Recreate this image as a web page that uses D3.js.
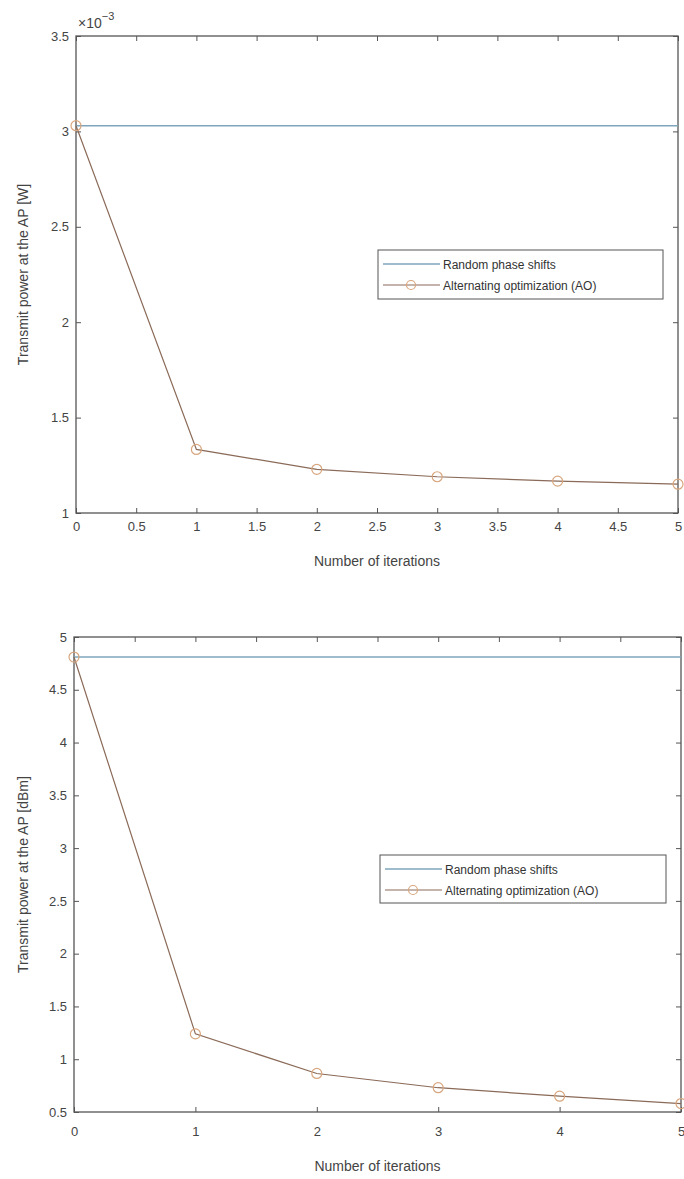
<!DOCTYPE html>
<html><head><meta charset="utf-8">
<script src="https://cdn.jsdelivr.net/npm/d3@7"></script>
<style>
body{margin:0;background:#fff;}
svg{display:block;font-family:"Liberation Sans",Arial,sans-serif;}
</style></head>
<body><svg id="c" width="684" height="1179"></svg>
<script>
// ---- data ----
const iterations = [0, 1, 2, 3, 4, 5];
const randomW = [3.03, 3.03, 3.03, 3.03, 3.03, 3.03];        // x10^-3 W
const aoW = [3.03, 1.333, 1.229, 1.19, 1.167, 1.151];        // x10^-3 W
const randomDbm = [4.81, 4.81, 4.81, 4.81, 4.81, 4.81];
const aoDbm = [4.81, 1.24, 0.865, 0.73, 0.65, 0.58];
const xTicksTop = [0, 0.5, 1, 1.5, 2, 2.5, 3, 3.5, 4, 4.5, 5];
const xTicksBottom = [0, 1, 2, 3, 4, 5];
const yTicksTop = [1, 1.5, 2, 2.5, 3, 3.5];
const yTicksBottom = [0.5, 1, 1.5, 2, 2.5, 3, 3.5, 4, 4.5, 5];
const legendLabels = ["Random phase shifts", "Alternating optimization (AO)"];

const svg = d3.select("#c");
const axisColor = "#555";
const textColor = "#444";
const blue = "#7fa6bd";
const aoLine = "#8a6a58";
const aoMarker = "#d8a67e";

function panel(cfg) {
  const g = svg.append("g");
  const x = d3.scaleLinear().domain([0, 5]).range([cfg.left, cfg.right]);
  const y = d3.scaleLinear().domain(cfg.yDomain).range([cfg.bottom, cfg.top]);

  const xa = g.append("g").attr("transform", `translate(0,${cfg.bottom})`)
    .call(d3.axisBottom(x).tickValues(cfg.xTicks).tickSizeInner(-5).tickSizeOuter(0).tickPadding(cfg.xPad)
      .tickFormat(d3.format("~g")));
  const xt = g.append("g").attr("transform", `translate(0,${cfg.top})`)
    .call(d3.axisTop(x).tickValues(cfg.xTicksMirror).tickSizeInner(-5).tickSizeOuter(0).tickFormat(""));
  const ya = g.append("g").attr("transform", `translate(${cfg.left},0)`)
    .call(d3.axisLeft(y).tickValues(cfg.yTicks).tickSizeInner(-5).tickSizeOuter(0).tickPadding(7)
      .tickFormat(d3.format("~g")));
  const yr = g.append("g").attr("transform", `translate(${cfg.right},0)`)
    .call(d3.axisRight(y).tickValues(cfg.yTicks).tickSizeInner(-5).tickSizeOuter(0).tickFormat(""));
  [xa, xt, ya, yr].forEach(a => {
    a.select(".domain").remove();
    a.selectAll(".tick line").attr("stroke", axisColor).attr("stroke-width", 1);
    a.selectAll(".tick text").attr("fill", textColor).style("font-size", "13px");
  });
  g.append("rect").attr("x", cfg.left).attr("y", cfg.top)
    .attr("width", cfg.right - cfg.left).attr("height", cfg.bottom - cfg.top)
    .attr("fill", "none").attr("stroke", axisColor).attr("stroke-width", 1.3);

  const line = d3.line().x((d, i) => x(iterations[i])).y(d => y(d));
  g.append("path").datum(cfg.random).attr("d", line).attr("fill", "none")
    .attr("stroke", blue).attr("stroke-width", 1.5);
  g.append("path").datum(cfg.ao).attr("d", line).attr("fill", "none")
    .attr("stroke", aoLine).attr("stroke-width", 1.2);
  g.selectAll("circle.m").data(cfg.ao).join("circle").attr("class", "m")
    .attr("cx", (d, i) => x(iterations[i])).attr("cy", d => y(d)).attr("r", 5)
    .attr("fill", "none").attr("stroke", aoMarker).attr("stroke-width", 1.2);

  g.append("text").attr("x", (cfg.left + cfg.right) / 2).attr("y", cfg.xlabelY)
    .attr("text-anchor", "middle").attr("fill", textColor).style("font-size", "14px")
    .text("Number of iterations");
  g.append("text").attr("transform", `translate(28,${(cfg.top + cfg.bottom) / 2}) rotate(-90)`)
    .attr("text-anchor", "middle").attr("fill", textColor).style("font-size", "14px")
    .text(cfg.ylabel);

  const L = cfg.legend;
  g.append("rect").attr("x", L.x).attr("y", L.y).attr("width", L.w).attr("height", L.h)
    .attr("fill", "#fff").attr("stroke", axisColor).attr("stroke-width", 1);
  const rows = [L.y + 14, L.y + 35];
  g.append("line").attr("x1", L.x + 5).attr("x2", L.x + 62).attr("y1", rows[0]).attr("y2", rows[0])
    .attr("stroke", blue).attr("stroke-width", 1.4);
  g.append("line").attr("x1", L.x + 5).attr("x2", L.x + 62).attr("y1", rows[1]).attr("y2", rows[1])
    .attr("stroke", aoLine).attr("stroke-width", 1.2);
  g.append("circle").attr("cx", L.x + 33).attr("cy", rows[1]).attr("r", 4.5)
    .attr("fill", "none").attr("stroke", aoMarker).attr("stroke-width", 1.2);
  legendLabels.forEach((t, i) => {
    g.append("text").attr("x", L.x + 65).attr("y", rows[i] + 4.5).attr("fill", "#333")
      .style("font-size", "12px").text(t);
  });
  return {g, x, y};
}

const p1 = panel({
  left: 76, right: 678, top: 36, bottom: 513, yDomain: [1, 3.5],
  xTicks: xTicksTop, xTicksMirror: xTicksTop, yTicks: yTicksTop, xPad: 9, xlabelY: 566,
  random: randomW, ao: aoW, ylabel: "Transmit power at the AP [W]",
  legend: {x: 378, y: 250, w: 285, h: 49}
});
const ex = p1.g.append("text").attr("x", 78).attr("y", 28).attr("fill", textColor).style("font-size", "14px");
ex.append("tspan").text("\u00d710");
ex.append("tspan").attr("dy", -8).style("font-size", "11px").text("\u22123");

panel({
  left: 74, right: 681, top: 637, bottom: 1112, yDomain: [0.5, 5],
  xTicks: xTicksBottom, xTicksMirror: xTicksTop, yTicks: yTicksBottom, xPad: 15, xlabelY: 1171,
  random: randomDbm, ao: aoDbm, ylabel: "Transmit power at the AP [dBm]",
  legend: {x: 380, y: 855, w: 286, h: 48}
});
</script></body></html>
